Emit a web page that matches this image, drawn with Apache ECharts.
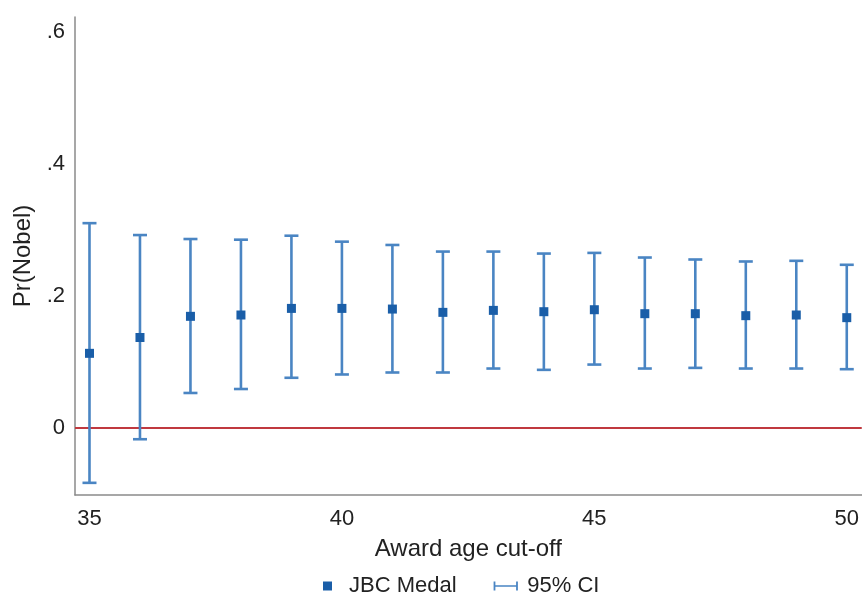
<!DOCTYPE html>
<html>
<head>
<meta charset="utf-8">
<title>Pr(Nobel) by award age cut-off</title>
<script src="https://cdn.jsdelivr.net/npm/echarts@6/dist/echarts.min.js"></script>
<style>
  html, body { margin: 0; padding: 0; background: #ffffff; }
  #chart { width: 862px; height: 597px; }
</style>
</head>
<body>
<div id="chart"></div>
<script>
// Award age cut-offs and the estimated probability of a Nobel prize
const ages = [35, 36, 37, 38, 39, 40, 41, 42, 43, 44, 45, 46, 47, 48, 49, 50];
const estimates = [0.113, 0.137, 0.169, 0.171, 0.181, 0.181, 0.180, 0.175, 0.178, 0.176, 0.179, 0.173, 0.173, 0.170, 0.171, 0.167];
const ciLower = [-0.083, -0.017, 0.053, 0.059, 0.076, 0.081, 0.084, 0.084, 0.090, 0.088, 0.096, 0.090, 0.091, 0.090, 0.090, 0.089];
const ciUpper = [0.310, 0.292, 0.286, 0.285, 0.291, 0.282, 0.277, 0.267, 0.267, 0.264, 0.265, 0.258, 0.255, 0.252, 0.253, 0.247];

// Axis ticks
const xTickValues = [35, 40, 45, 50];
const yTickValues = [0, 0.2, 0.4, 0.6];
const yTickLabels = ['0', '.2', '.4', '.6'];

const FONT = '"Liberation Sans", Arial, Helvetica, sans-serif';
const TEXT = '#222222';
const BAR_BLUE = '#4a85c3';
const MARK_BLUE = '#1a5ea8';

const pointData = ages.map((a, i) => [a, estimates[i]]);
const ciData = ages.map((a, i) => [a, ciLower[i], ciUpper[i]]);

// Vertical interval with end caps
function renderCI(params, api) {
  const x = api.value(0);
  const lo = api.coord([x, api.value(1)]);
  const hi = api.coord([x, api.value(2)]);
  const cap = 7;
  const style = { stroke: BAR_BLUE, lineWidth: 2.6, fill: null };
  return {
    type: 'group',
    children: [
      { type: 'line', shape: { x1: lo[0], y1: lo[1], x2: hi[0], y2: hi[1] }, style },
      { type: 'line', shape: { x1: hi[0] - cap, y1: hi[1], x2: hi[0] + cap, y2: hi[1] }, style },
      { type: 'line', shape: { x1: lo[0] - cap, y1: lo[1], x2: lo[0] + cap, y2: lo[1] }, style }
    ]
  };
}

const chart = echarts.init(document.getElementById('chart'), null, { renderer: 'canvas' });

chart.setOption({
  backgroundColor: '#ffffff',
  animation: false,
  textStyle: { fontFamily: FONT, color: TEXT },
  grid: { left: 75, right: 0, top: 17, bottom: 102, containLabel: false },
  legend: {
    left: 318,
    top: 570,
    itemWidth: 27,
    itemHeight: 9,
    itemGap: 37,
    symbolKeepAspect: true,
    textStyle: { fontFamily: FONT, fontSize: 22, color: TEXT },
    data: [
      {
        name: 'JBC Medal',
        icon: 'path://M0,0H10V10H0Z',
        itemStyle: { color: MARK_BLUE },
        textStyle: { padding: [0, 0, 0, 3] }
      },
      {
        name: '95% CI',
        icon: 'path://M0,0H2V4.2H25V0H27V10H25V5.8H2V10H0Z',
        itemStyle: { color: BAR_BLUE },
        textStyle: { padding: [0, 0, 0, 3] }
      }
    ]
  },
  xAxis: {
    type: 'value',
    min: 34.713,
    max: 50.297,
    name: 'Award age cut-off',
    nameLocation: 'middle',
    nameGap: 42,
    nameTextStyle: { fontFamily: FONT, fontSize: 24, color: TEXT },
    axisLine: { show: true, onZero: false, lineStyle: { color: '#8a8a8a', width: 1.5 } },
    axisTick: { show: false },
    splitLine: { show: false },
    axisLabel: {
      customValues: xTickValues,
      fontSize: 22,
      color: TEXT,
      margin: 13,
      showMinLabel: true,
      showMaxLabel: true
    }
  },
  yAxis: {
    type: 'value',
    min: -0.1014,
    max: 0.622,
    name: 'Pr(Nobel)',
    nameLocation: 'middle',
    nameGap: 38,
    nameRotate: 90,
    nameTextStyle: { fontFamily: FONT, fontSize: 24, color: TEXT },
    axisLine: { show: true, onZero: false, lineStyle: { color: '#8a8a8a', width: 1.5 } },
    axisTick: { show: false },
    splitLine: { show: false },
    axisLabel: {
      customValues: yTickValues,
      fontSize: 22,
      color: TEXT,
      margin: 10,
      formatter: (v) => {
        const i = yTickValues.findIndex((t) => Math.abs(t - v) < 1e-9);
        return i >= 0 ? yTickLabels[i] : '';
      }
    }
  },
  series: [
    {
      name: '95% CI',
      type: 'custom',
      renderItem: renderCI,
      data: ciData,
      encode: { x: 0, y: [1, 2] },
      itemStyle: { color: BAR_BLUE },
      z: 3,
      silent: true,
      markLine: {
        silent: true,
        symbol: 'none',
        label: { show: false },
        lineStyle: { color: '#c0393f', width: 1.8, type: 'solid' },
        data: [{ yAxis: 0 }],
        z: 2
      }
    },
    {
      name: 'JBC Medal',
      type: 'scatter',
      data: pointData,
      symbol: 'rect',
      symbolSize: 9,
      itemStyle: { color: MARK_BLUE, opacity: 1 },
      z: 4,
      silent: true
    }
  ]
});
</script>
</body>
</html>
